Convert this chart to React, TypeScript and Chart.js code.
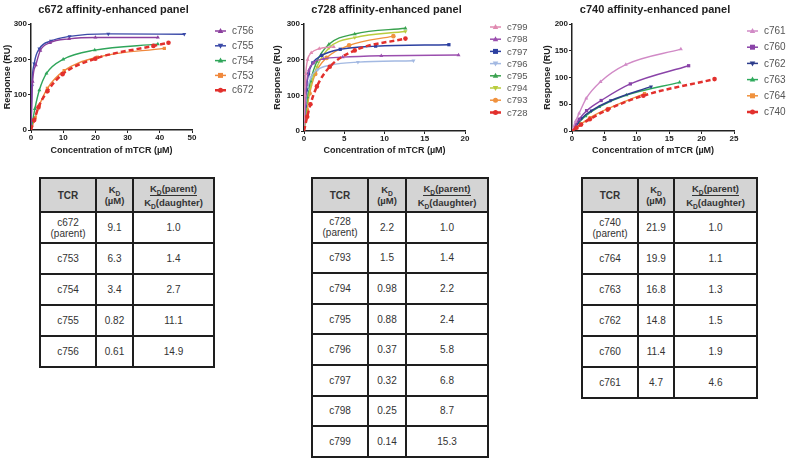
import React, { useEffect, useRef } from 'react';
import { Chart, registerables } from 'chart.js';
Chart.register(...registerables);

const FONT = '"Liberation Sans", Arial, Helvetica, sans-serif';

// ---------- Panel 1: c672 ----------
const c756X = [0, 0.5, 1.5, 2.9, 5.9, 11.8, 20, 39.4];
const c756Y = [0, 137, 184, 225, 247, 258, 262, 262];
const c755X = [0, 0.3, 1, 2.6, 6.2, 12, 24, 47.6];
const c755Y = [0, 125, 188, 230, 252, 265, 272, 271];
const c754X = [0, 1.2, 2.6, 4.8, 10, 19.8, 39.4];
const c754Y = [0, 60, 113, 160, 200, 226, 243];
const c753X = [0, 1.3, 2.6, 5.1, 10.3, 20.6, 41.4];
const c753Y = [0, 35, 70, 118, 168, 206, 231];
const c672X = [0, 1, 2.3, 5.1, 9.8, 20, 38, 42.7];
const c672Y = [0, 28, 64, 110, 158, 202, 238, 247];

// ---------- Panel 2: c728 ----------
const c799X = [0, 0.11, 0.22, 0.45, 0.9, 1.9, 3.7];
const c799Y = [0, 100, 160, 200, 219, 231, 236];
const c798X = [0, 0.15, 0.3, 0.6, 1.2, 2.4, 4.8, 9.6, 19.2];
const c798Y = [0, 80, 130, 170, 192, 202, 207, 211, 213];
const c797X = [0, 0.14, 0.28, 0.56, 1.1, 2.2, 4.5, 8.9, 18];
const c797Y = [0, 70, 115, 160, 191, 212, 229, 238, 242];
const c796X = [0, 0.21, 0.42, 0.84, 1.7, 3.4, 6.7, 13.6];
const c796Y = [0, 72, 115, 150, 172, 185, 193, 197];
const c795X = [0, 0.4, 0.8, 1.6, 3.1, 6.3, 12.6];
const c795Y = [0, 95, 140, 195, 243, 272, 288];
const c794X = [0, 0.4, 0.8, 1.6, 3.1, 6.3, 12.6];
const c794Y = [0, 80, 125, 180, 233, 262, 279];
const c793X = [0, 0.35, 0.7, 1.4, 2.8, 5.6, 11.1];
const c793Y = [0, 60, 105, 160, 205, 240, 266];
const c728X = [0, 0.4, 0.8, 1.6, 3.2, 6.3, 12.6];
const c728Y = [0, 40, 75, 125, 180, 226, 259];

// ---------- Panel 3: c740 ----------
const c761X = [0, 0.55, 1.1, 2.2, 4.4, 8.3, 16.8];
const c761Y = [0, 18, 33, 61, 92, 124, 153];
const c760X = [0, 0.55, 1.1, 2.25, 4.5, 9, 18];
const c760Y = [0, 11, 22, 38, 57, 88, 122];
const c762X = [0, 0.75, 1.5, 3, 6, 12.2];
const c762Y = [0, 13, 24, 38, 57, 83];
const c763X = [0, 0.5, 1, 2.1, 4.2, 8.4, 16.6];
const c763Y = [0, 8, 15, 28, 45, 67, 91];
const c764X = [0, 0.7, 1.4, 2.8, 5.6, 11.2];
const c764Y = [0, 7, 13, 25, 42, 70];
const c740X = [0, 0.7, 1.4, 2.75, 5.5, 11, 22];
const c740Y = [0, 6, 12, 22, 40, 66, 97];

// ---------- Tables ----------
const t1TCR = ['c672\n(parent)', 'c753', 'c754', 'c755', 'c756'];
const t1KD = ['9.1', '6.3', '3.4', '0.82', '0.61'];
const t1Ratio = ['1.0', '1.4', '2.7', '11.1', '14.9'];
const t2TCR = ['c728\n(parent)', 'c793', 'c794', 'c795', 'c796', 'c797', 'c798', 'c799'];
const t2KD = ['2.2', '1.5', '0.98', '0.88', '0.37', '0.32', '0.25', '0.14'];
const t2Ratio = ['1.0', '1.4', '2.2', '2.4', '5.8', '6.8', '8.7', '15.3'];
const t3TCR = ['c740\n(parent)', 'c764', 'c763', 'c762', 'c760', 'c761'];
const t3KD = ['21.9', '19.9', '16.8', '14.8', '11.4', '4.7'];
const t3Ratio = ['1.0', '1.1', '1.3', '1.5', '1.9', '4.6'];

type Series = {
  name: string; xs: number[]; ys: number[]; color: string;
  marker: string; rot?: number; dashed?: boolean;
};

const RED = '#e2302d';

const panel1: Series[] = [
  { name: 'c756', xs: c756X, ys: c756Y, color: '#8b3f9e', marker: 'triangle' },
  { name: 'c755', xs: c755X, ys: c755Y, color: '#3b4aa8', marker: 'triangle', rot: 180 },
  { name: 'c754', xs: c754X, ys: c754Y, color: '#2fa55a', marker: 'triangle' },
  { name: 'c753', xs: c753X, ys: c753Y, color: '#f0883c', marker: 'rect' },
  { name: 'c672', xs: c672X, ys: c672Y, color: RED, marker: 'circle', dashed: true },
];
const panel2: Series[] = [
  { name: 'c799', xs: c799X, ys: c799Y, color: '#e08ab0', marker: 'triangle' },
  { name: 'c798', xs: c798X, ys: c798Y, color: '#9b4fae', marker: 'triangle' },
  { name: 'c797', xs: c797X, ys: c797Y, color: '#2b3fa0', marker: 'rect' },
  { name: 'c796', xs: c796X, ys: c796Y, color: '#a3b9e2', marker: 'triangle', rot: 180 },
  { name: 'c795', xs: c795X, ys: c795Y, color: '#3aa24f', marker: 'triangle' },
  { name: 'c794', xs: c794X, ys: c794Y, color: '#b9cc3d', marker: 'triangle', rot: 180 },
  { name: 'c793', xs: c793X, ys: c793Y, color: '#f0923e', marker: 'circle' },
  { name: 'c728', xs: c728X, ys: c728Y, color: RED, marker: 'circle', dashed: true },
];
const panel3: Series[] = [
  { name: 'c761', xs: c761X, ys: c761Y, color: '#d18ac6', marker: 'triangle' },
  { name: 'c760', xs: c760X, ys: c760Y, color: '#8a43a8', marker: 'rect' },
  { name: 'c762', xs: c762X, ys: c762Y, color: '#2d3c8c', marker: 'triangle', rot: 180 },
  { name: 'c763', xs: c763X, ys: c763Y, color: '#2eaa5c', marker: 'triangle' },
  { name: 'c764', xs: c764X, ys: c764Y, color: '#f0923e', marker: 'rect' },
  { name: 'c740', xs: c740X, ys: c740Y, color: RED, marker: 'circle', dashed: true },
];

function drawMarker(ctx: CanvasRenderingContext2D, style: string, x: number, y: number, r: number, rot: number) {
  ctx.save();
  ctx.translate(x, y);
  ctx.rotate((rot * Math.PI) / 180);
  ctx.beginPath();
  if (style === 'circle') {
    ctx.arc(0, 0, r, 0, Math.PI * 2);
  } else if (style === 'rect') {
    ctx.rect(-r, -r, 2 * r, 2 * r);
  } else {
    ctx.moveTo(0, -r * 1.2);
    ctx.lineTo(r * 1.1, r * 0.8);
    ctx.lineTo(-r * 1.1, r * 0.8);
    ctx.closePath();
  }
  ctx.fill();
  ctx.restore();
}

type PanelCfg = {
  width: number; height: number; left: number;
  plotLeft: number; plotRight: number; plotTop: number; plotBottom: number;
  xMax: number; xStep: number; yMax: number; yStep: number;
  title: string; series: Series[];
  lx: number; ly: number; lstep: number; lfont: number;
};

function makeDeco(cfg: PanelCfg) {
  return {
    id: 'deco',
    afterDraw(chart: any) {
      const ctx: CanvasRenderingContext2D = chart.ctx;
      const ca = chart.chartArea;
      ctx.save();
      ctx.font = `bold 11px ${FONT}`;
      ctx.fillStyle = '#222';
      ctx.textAlign = 'center';
      ctx.textBaseline = 'middle';
      ctx.fillText(cfg.title, (ca.left + ca.right) / 2 + 2, 10);
      cfg.series.forEach((s, i) => {
        const y = cfg.ly + i * cfg.lstep;
        ctx.strokeStyle = s.color;
        ctx.fillStyle = s.color;
        ctx.lineWidth = s.dashed ? 2.5 : 1.5;
        ctx.setLineDash(s.dashed ? [4, 3] : []);
        ctx.beginPath();
        ctx.moveTo(cfg.lx, y);
        ctx.lineTo(cfg.lx + 11, y);
        ctx.stroke();
        ctx.setLineDash([]);
        drawMarker(ctx, s.marker, cfg.lx + 5.5, y, 2.5, s.rot || 0);
        ctx.fillStyle = '#555';
        ctx.textAlign = 'left';
        ctx.font = `${cfg.lfont}px ${FONT}`;
        ctx.fillText(s.name, cfg.lx + 17, y + 0.5);
      });
      ctx.restore();
    },
  };
}

function Panel({ cfg }: { cfg: PanelCfg }) {
  const ref = useRef<HTMLCanvasElement>(null);
  useEffect(() => {
    if (!ref.current) return;
    const tickFont = { family: FONT, size: 8, weight: 'bold' as const };
    const titleFont = { family: FONT, size: 9, weight: 'bold' as const };
    const chart = new Chart(ref.current, {
      type: 'scatter',
      data: {
        datasets: cfg.series.map((s) => ({
          label: s.name,
          data: s.xs.map((x, i) => ({ x, y: s.ys[i] })),
          showLine: true,
          borderColor: s.color,
          backgroundColor: s.color,
          borderWidth: s.dashed ? 2.5 : 1.4,
          borderDash: s.dashed ? [5, 3] : [],
          pointStyle: s.marker as any,
          rotation: s.rot || 0,
          pointRadius: (c: any) => (c.dataIndex === 0 ? 0 : 2.3),
          pointBorderWidth: 0,
          cubicInterpolationMode: 'monotone' as const,
          order: s.dashed ? 0 : 1,
        })),
      },
      options: {
        animation: false,
        responsive: false,
        maintainAspectRatio: false,
        layout: {
          padding: { left: 0, top: cfg.plotTop, right: cfg.width - cfg.plotRight, bottom: 0 },
        },
        plugins: { legend: { display: false }, tooltip: { enabled: false }, title: { display: false } },
        scales: {
          x: {
            type: 'linear',
            min: 0,
            max: cfg.xMax,
            ticks: { stepSize: cfg.xStep, font: tickFont, color: '#222', padding: 0, maxRotation: 0 },
            grid: { display: true, drawOnChartArea: false, drawTicks: true, tickLength: 3, color: '#222', lineWidth: 1 },
            border: { display: true, color: '#222', width: 1.5 },
            title: {
              display: true, text: 'Concentration of mTCR (µM)', font: titleFont, color: '#222',
              padding: { top: 0, bottom: 9.5 },
            },
            afterFit: (s: any) => { s.height = cfg.height - cfg.plotBottom; },
          },
          y: {
            type: 'linear',
            min: 0,
            max: cfg.yMax,
            ticks: { stepSize: cfg.yStep, font: tickFont, color: '#222', padding: 1 },
            grid: { display: true, drawOnChartArea: false, drawTicks: true, tickLength: 3, color: '#222', lineWidth: 1 },
            border: { display: true, color: '#222', width: 1.5 },
            title: {
              display: true, text: 'Response (RU)', font: titleFont, color: '#222',
              padding: { top: 2.5, bottom: 0 },
            },
            afterFit: (s: any) => { s.width = cfg.plotLeft; },
          },
        },
      },
      plugins: [makeDeco(cfg)],
    } as any);
    return () => chart.destroy();
  }, [cfg]);
  return (
    <canvas
      ref={ref}
      width={cfg.width}
      height={cfg.height}
      style={{ position: 'absolute', left: cfg.left, top: 0, width: cfg.width, height: cfg.height }}
    />
  );
}

const cfg1: PanelCfg = {
  width: 270, height: 165, left: 0, plotLeft: 31, plotRight: 192, plotTop: 24, plotBottom: 130,
  xMax: 50, xStep: 10, yMax: 300, yStep: 100, title: 'c672 affinity-enhanced panel', series: panel1,
  lx: 215, ly: 31, lstep: 14.8, lfont: 10,
};
const cfg2: PanelCfg = {
  width: 270, height: 165, left: 270, plotLeft: 34, plotRight: 195, plotTop: 24, plotBottom: 131,
  xMax: 20, xStep: 5, yMax: 300, yStep: 100, title: 'c728 affinity-enhanced panel', series: panel2,
  lx: 220, ly: 27, lstep: 12.2, lfont: 9.5,
};
const cfg3: PanelCfg = {
  width: 260, height: 165, left: 540, plotLeft: 32, plotRight: 194, plotTop: 24, plotBottom: 131,
  xMax: 25, xStep: 5, yMax: 200, yStep: 50, title: 'c740 affinity-enhanced panel', series: panel3,
  lx: 207, ly: 31, lstep: 16.2, lfont: 10,
};

const KD = () => (
  <span>K<sub style={{ fontSize: '70%', verticalAlign: 'sub', lineHeight: 0 }}>D</sub></span>
);

function DataTable({ left, top, colW, headH, rowH, tcr, kd, ratio }: {
  left: number; top: number; colW: number[]; headH: number; rowH: number;
  tcr: string[]; kd: string[]; ratio: string[];
}) {
  const cell: React.CSSProperties = {
    background: '#fff', display: 'flex', alignItems: 'center', justifyContent: 'center',
    textAlign: 'center', fontFamily: FONT, fontSize: 10, color: '#333', lineHeight: '11px',
    whiteSpace: 'pre-line',
  };
  const head: React.CSSProperties = { ...cell, background: '#d4d4d4', fontWeight: 'bold', color: '#333', fontSize: 9.5 };
  return (
    <div
      style={{
        position: 'absolute', left, top, display: 'grid',
        gridTemplateColumns: colW.map((w) => `${w}px`).join(' '),
        gridTemplateRows: `${headH}px repeat(${tcr.length}, ${rowH}px)`,
        gap: 2, padding: 2, background: '#1e1e1e',
      }}
    >
      <div style={{ ...head, fontSize: 10 }}>TCR</div>
      <div style={{ ...head, flexDirection: 'column' }}>
        <div><KD /></div>
        <div>(µM)</div>
      </div>
      <div style={{ ...head, flexDirection: 'column' }}>
        <div style={{ borderBottom: '1px solid #333', paddingBottom: 1 }}><KD />(parent)</div>
        <div style={{ paddingTop: 1 }}><KD />(daughter)</div>
      </div>
      {tcr.map((t, i) => (
        <React.Fragment key={t}>
          <div style={cell}>{t}</div>
          <div style={cell}>{kd[i]}</div>
          <div style={cell}>{ratio[i]}</div>
        </React.Fragment>
      ))}
    </div>
  );
}

export default function App() {
  return (
    <div style={{ position: 'fixed', left: 0, top: 0, width: 800, height: 461, background: '#fff', overflow: 'hidden' }}>
      <Panel cfg={cfg1} />
      <Panel cfg={cfg2} />
      <Panel cfg={cfg3} />
      <DataTable left={39} top={177} colW={[54, 35, 79]} headH={32} rowH={29}
        tcr={t1TCR} kd={t1KD} ratio={t1Ratio} />
      <DataTable left={311} top={177} colW={[54, 36, 80]} headH={32} rowH={28.6}
        tcr={t2TCR} kd={t2KD} ratio={t2Ratio} />
      <DataTable left={581} top={177} colW={[54, 34, 81]} headH={32} rowH={29}
        tcr={t3TCR} kd={t3KD} ratio={t3Ratio} />
    </div>
  );
}
